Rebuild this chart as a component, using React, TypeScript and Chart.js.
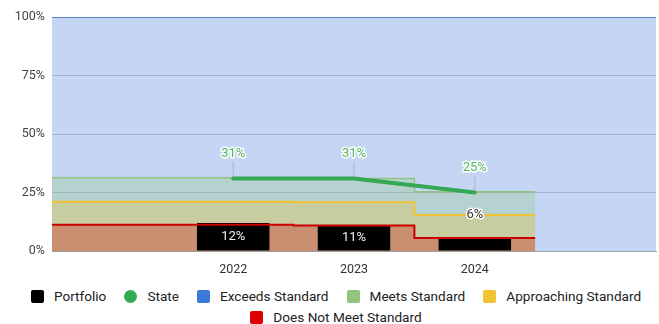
import React, { useEffect, useRef } from 'react';
import { Chart, registerables } from 'chart.js';

Chart.register(...registerables);

// Category slots along the x axis; blank slots pad the plot on each side.
const YEARS = ['2022', '2023', '2024'];
const CATEGORIES = ['', ...YEARS, ''];

// Portfolio result and state average per year (percent).
const PORTFOLIO = [12, 11, 6];
const STATE = [31, 31, 25];

// Upper bound of each performance band per slot ('', 2022, 2023, 2024).
const DOES_NOT_MEET = [11.2, 11.2, 10.9, 5.6];
const APPROACHING = [21.1, 21.1, 20.8, 15.4];
const MEETS = [31.3, 31.3, 31.0, 25.3];
const EXCEEDS = [100, 100, 100, 100, 100];

const Y_TICKS = [0, 25, 50, 75, 100];

const COLORS = {
  portfolio: '#000000',
  state: '#34a853',
  exceeds: '#3c78d8',
  meets: '#93c47d',
  approaching: '#f1c232',
  doesNotMeet: '#cc0000',
};

const FONT = 'Roboto';

const LEGEND = [
  { label: 'Portfolio', color: COLORS.portfolio, round: false },
  { label: 'State', color: COLORS.state, round: true },
  { label: 'Exceeds Standard', color: COLORS.exceeds, round: false },
  { label: 'Meets Standard', color: COLORS.meets, round: false },
  { label: 'Approaching Standard', color: COLORS.approaching, round: false },
  { label: 'Does Not Meet Standard', color: '#dd0000', round: false },
];

function alpha(hex: string, a: number) {
  const n = parseInt(hex.slice(1), 16);
  return `rgba(${(n >> 16) & 255},${(n >> 8) & 255},${n & 255},${a})`;
}

// Each slot i spans [i, i + 1]; a closing point repeats the last value.
function stepPoints(values: number[]) {
  const pts = values.map((y, i) => ({ x: i, y }));
  pts.push({ x: values.length, y: values[values.length - 1] });
  return pts;
}

const yearCenter = (i: number) => CATEGORIES.indexOf(YEARS[i]) + 0.5;

function band(label: string, values: number[], color: string, order: number, width = 2) {
  return {
    type: 'line' as const,
    label,
    data: stepPoints(values),
    stepped: 'before' as const,
    fill: 'origin',
    backgroundColor: alpha(color, 0.3),
    borderColor: color,
    borderWidth: width,
    pointRadius: 0,
    order,
  };
}

function haloText(ctx: CanvasRenderingContext2D, text: string, x: number, y: number, color: string) {
  ctx.lineJoin = 'round';
  ctx.lineWidth = 3;
  ctx.strokeStyle = '#ffffff';
  ctx.strokeText(text, x, y);
  ctx.fillStyle = color;
  ctx.fillText(text, x, y);
}

const valueLabels = {
  id: 'valueLabels',
  afterDatasetsDraw(chart: any) {
    const ctx: CanvasRenderingContext2D = chart.ctx;
    ctx.save();
    ctx.font = `13px ${FONT}`;
    ctx.textAlign = 'center';
    ctx.textBaseline = 'middle';

    const bars = chart.getDatasetMeta(0).data;
    bars.forEach((bar: any, i: number) => {
      const { x, y, base } = bar.getProps(['x', 'y', 'base'], true);
      const text = `${PORTFOLIO[i]}%`;
      if (base - y >= 20) {
        ctx.fillStyle = '#f2f2f2';
        ctx.fillText(text, x, (y + base) / 2);
      } else {
        haloText(ctx, text, x, y - 22, '#333333');
      }
    });

    const points = chart.getDatasetMeta(1).data;
    points.forEach((pt: any, i: number) => {
      const ly = pt.y - 25;
      ctx.strokeStyle = 'rgba(110,150,120,0.45)';
      ctx.lineWidth = 1;
      ctx.beginPath();
      ctx.moveTo(pt.x, ly + 8);
      ctx.lineTo(pt.x, pt.y);
      ctx.stroke();
      haloText(ctx, `${STATE[i]}%`, pt.x, ly, '#4cb860');
    });
    ctx.restore();
  },
};

function PerformanceChart() {
  const canvasRef = useRef<HTMLCanvasElement | null>(null);

  useEffect(() => {
    const canvas = canvasRef.current;
    if (!canvas) return;
    const chart = new Chart(canvas, {
      data: {
        datasets: [
          {
            type: 'bar',
            label: 'Portfolio',
            data: PORTFOLIO.map((y, i) => ({ x: yearCenter(i), y })),
            backgroundColor: COLORS.portfolio,
            barPercentage: 0.6,
            categoryPercentage: 1,
            order: 11,
          },
          {
            type: 'line',
            label: 'State',
            data: STATE.map((y, i) => ({ x: yearCenter(i), y })),
            borderColor: COLORS.state,
            borderWidth: 4,
            borderCapStyle: 'round',
            pointRadius: 0,
            fill: false,
            order: 0,
          },
          band('Exceeds Standard', EXCEEDS, COLORS.exceeds, 10, 1.5),
          band('Meets Standard', MEETS, COLORS.meets, 9, 1.5),
          band('Approaching Standard', APPROACHING, COLORS.approaching, 8),
          band('Does Not Meet Standard', DOES_NOT_MEET, COLORS.doesNotMeet, 7),
        ] as any,
      },
      options: {
        animation: false,
        responsive: true,
        maintainAspectRatio: false,
        events: [],
        layout: { padding: { top: 17, right: 3, left: 0, bottom: 0 } },
        plugins: {
          legend: { display: false },
          tooltip: { enabled: false },
          filler: { drawTime: 'beforeDatasetsDraw' },
        },
        scales: {
          x: {
            type: 'linear',
            min: 0,
            max: CATEGORIES.length,
            offset: false,
            grid: { display: false, drawTicks: false, offset: false },
            border: { display: true, color: '#9e9e9e', width: 1 },
            afterBuildTicks: (scale: any) => {
              scale.ticks = CATEGORIES.map((c, i) => ({ c, v: i + 0.5 }))
                .filter((t) => t.c)
                .map((t) => ({ value: t.v }));
            },
            afterFit: (scale: any) => {
              scale.height = 31;
            },
            ticks: {
              autoSkip: false,
              maxRotation: 0,
              padding: 11,
              color: '#333333',
              font: { family: FONT, size: 12.5 },
              callback: (value: any) => CATEGORIES[Math.floor(Number(value))],
            },
          },
          y: {
            type: 'linear',
            min: 0,
            max: 100,
            grid: { color: '#cccccc', drawTicks: false, lineWidth: 1 },
            border: { display: false },
            afterBuildTicks: (scale: any) => {
              scale.ticks = Y_TICKS.map((value) => ({ value }));
            },
            afterFit: (scale: any) => {
              scale.width = 52;
            },
            ticks: {
              padding: 7,
              color: '#444444',
              font: { family: FONT, size: 12.5 },
              callback: (value: any) => `${value}%`,
            },
          },
        },
      } as any,
      plugins: [valueLabels],
    });
    return () => chart.destroy();
  }, []);

  return (
    <div style={{ position: 'absolute', left: 0, top: 0, width: 659, height: 324, background: '#ffffff' }}>
      <div style={{ position: 'absolute', left: 0, top: 0, width: 659, height: 282 }}>
        <canvas ref={canvasRef} />
      </div>
      <div
        style={{
          position: 'absolute',
          left: 13,
          top: 289,
          width: 646,
          display: 'flex',
          flexWrap: 'wrap',
          justifyContent: 'center',
          columnGap: 18,
          rowGap: 6,
          fontFamily: FONT,
          fontSize: 13.6,
          lineHeight: '15px',
          color: '#222222',
        }}
      >
        {LEGEND.map((item) => (
          <div key={item.label} style={{ display: 'flex', alignItems: 'center', whiteSpace: 'nowrap' }}>
            <span
              style={{
                display: 'inline-block',
                width: 13,
                height: 13,
                marginRight: 10,
                background: item.color,
                borderRadius: item.round ? '50%' : 2,
              }}
            />
            <span>{item.label}</span>
          </div>
        ))}
      </div>
    </div>
  );
}

export default function App() {
  return <PerformanceChart />;
}
